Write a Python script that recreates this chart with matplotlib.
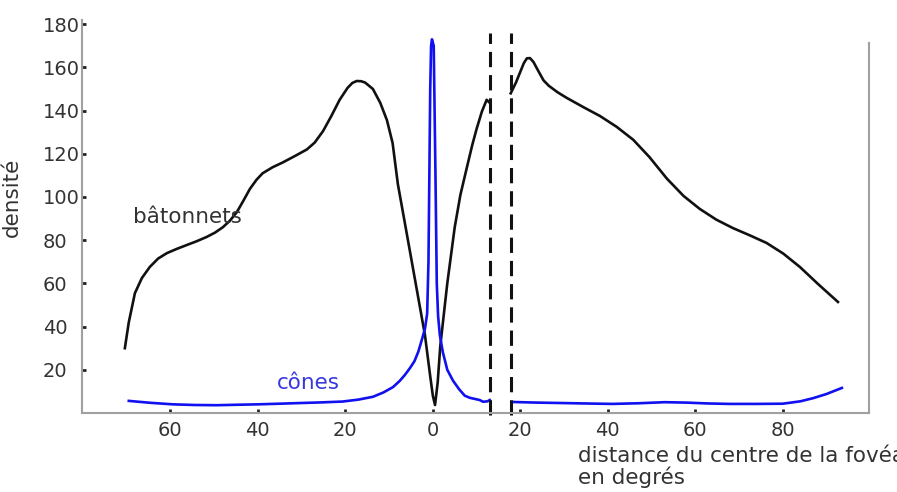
"""Densité des bâtonnets et des cônes en fonction de l'excentricité rétinienne."""

import matplotlib
matplotlib.use("Agg")
import matplotlib.pyplot as plt

# bâtonnets, côté gauche de la tache aveugle
rods_left_x = [-70.4, -69.5, -68.1, -66.5, -64.7, -62.8, -60.8, -58.5, -56.2, -54.0,
               -51.7, -49.8, -48.0, -46.4, -44.8, -43.3, -41.8, -40.3, -38.9, -36.6,
               -34.3, -31.5, -28.8, -27.0, -25.1, -23.2, -21.3, -19.5, -18.4, -17.4,
               -16.4, -15.5, -13.7, -12.0, -10.5, -9.2, -8.0, -6.4, -4.1, -1.8,
               -0.6, 0.0, 0.5, 1.1, 1.7, 3.3, 5.0, 6.3, 7.7, 9.0,
               10.0, 11.2, 12.3, 12.8]
rods_left_y = [30, 42, 55.5, 62.5, 67.6, 71.5, 74, 76, 77.8, 79.5,
               81.5, 83.5, 86, 89, 93, 98.3, 103.8, 108, 111, 113.8,
               116, 119, 122, 125.2, 130.5, 137.5, 145, 150.5, 152.8, 153.7,
               153.6, 153, 150, 143.5, 135.6, 125, 106, 88, 62, 36,
               17, 8, 3.7, 14, 31, 60, 86, 101, 113, 124,
               131.5, 139.5, 145, 144]

# bâtonnets, côté droit de la tache aveugle
rods_right_x = [17.8, 19.0, 20.0, 20.8, 21.5, 22.2, 23.0, 24.2, 25.3, 26.5,
                28.5, 30.5, 34.5, 38.2, 42.0, 45.8, 49.5, 53.5, 57.3, 61.0,
                64.8, 68.6, 72.5, 76.3, 80.1, 83.9, 88.0, 92.6]
rods_right_y = [148, 153, 158, 162, 164.2, 164.3, 162.5, 158, 154, 151.5,
                148.5, 146, 141.5, 137.5, 132.5, 126.5, 118.5, 108.5, 100.5, 94.5,
                89.5, 85.6, 82.2, 78.7, 73.8, 67.6, 59.8, 51.4]

# cônes
cones_left_x = [-69.5, -64.5, -59.4, -54.4, -49.4, -45.0, -40.0, -35.0, -30.4, -25.5,
                -20.6, -17.0, -13.7, -11.3, -9.1, -7.6, -6.4, -5.3, -4.2, -3.3,
                -2.5, -1.8, -1.3, -1.0, -0.8, -0.6, -0.4, -0.2, 0.2, 0.6,
                0.9, 1.2, 1.6, 2.3, 3.3, 4.6, 6.0, 7.3, 8.5, 10.7,
                11.5, 12.5, 13.0]
cones_left_y = [5.6, 4.7, 4.0, 3.7, 3.6, 3.8, 4.0, 4.3, 4.6, 4.9,
                5.3, 6.2, 7.5, 9.5, 12, 14.8, 17.6, 20.6, 24, 28.5,
                34, 39, 46, 70, 110, 150, 170, 173, 170, 110,
                60, 45, 36, 28, 20, 15, 11, 8, 7, 6,
                5.2, 5.4, 6]
cones_right_x = [18.3, 20.0, 24.0, 29.7, 35.0, 41.0, 47.0, 53.0, 58.0, 63.0,
                 67.9, 74.0, 80.0, 84.0, 87.0, 90.0, 93.5]
cones_right_y = [5.1, 5.0, 4.8, 4.6, 4.4, 4.2, 4.5, 5.0, 4.8, 4.4,
                 4.2, 4.2, 4.3, 5.4, 6.9, 8.8, 11.6]

# limites de la tache aveugle
blind_spot = [13.0, 17.8]

x_ticks = [-60, -40, -20, 0, 20, 40, 60, 80]
x_tick_labels = ["60", "40", "20", "0", "20", "40", "60", "80"]
y_ticks = [20, 40, 60, 80, 100, 120, 140, 160, 180]


def main():

    fig = plt.figure(figsize=(8.97, 4.92), dpi=100)
    ax = fig.add_axes([0.0914, 0.1606, 0.8774, 0.799])

    black = "#111111"
    blue = "#1010f0"

    ax.plot(rods_left_x, rods_left_y, color=black, lw=1.9, solid_joinstyle="round")
    ax.plot(rods_right_x, rods_right_y, color=black, lw=1.9, solid_joinstyle="round")
    ax.plot(cones_left_x, cones_left_y, color=blue, lw=1.9, solid_joinstyle="round")
    ax.plot(cones_right_x, cones_right_y, color=blue, lw=1.9, solid_joinstyle="round")

    for xb in blind_spot:
        ax.plot([xb, xb], [-1, 176], color=black, lw=2.2, dashes=(5, 2.6),
                clip_on=False)

    ax.text(-68.6, 90.7, "bâtonnets", color="#333333", fontsize=15.5,
            ha="left", va="center")
    ax.text(-35.7, 13.9, "cônes", color="#3838e0", fontsize=15.5,
            ha="left", va="center")

    ax.set_xlim(-80.2, 99.7)
    ax.set_ylim(0, 182)

    ax.set_xticks(x_ticks)
    ax.set_xticklabels(x_tick_labels)
    ax.set_yticks(y_ticks)

    ax.tick_params(direction="in", length=3, width=2, color="#222222",
                   labelsize=14, labelcolor="#333333")
    ax.tick_params(axis="x", pad=6)
    ax.tick_params(axis="y", pad=28)
    for lab in ax.get_yticklabels():
        lab.set_horizontalalignment("left")

    for side in ["left", "bottom", "right"]:
        ax.spines[side].set_color("#a0a0a0")
        ax.spines[side].set_linewidth(1.5)
    ax.spines["top"].set_visible(False)
    ax.spines["right"].set_bounds(0, 171.5)

    fig.text(12 / 897, 1 - 197 / 492, "densité", rotation=90, fontsize=15.5,
             color="#333333", ha="center", va="center")
    fig.text(578 / 897, 1 - 446 / 492, "distance du centre de la fovéa\nen degrés",
             fontsize=15.5, color="#333333", ha="left", va="top", linespacing=1.05)

    fig.savefig("out.png", dpi=100)


if __name__ == "__main__":
    main()
